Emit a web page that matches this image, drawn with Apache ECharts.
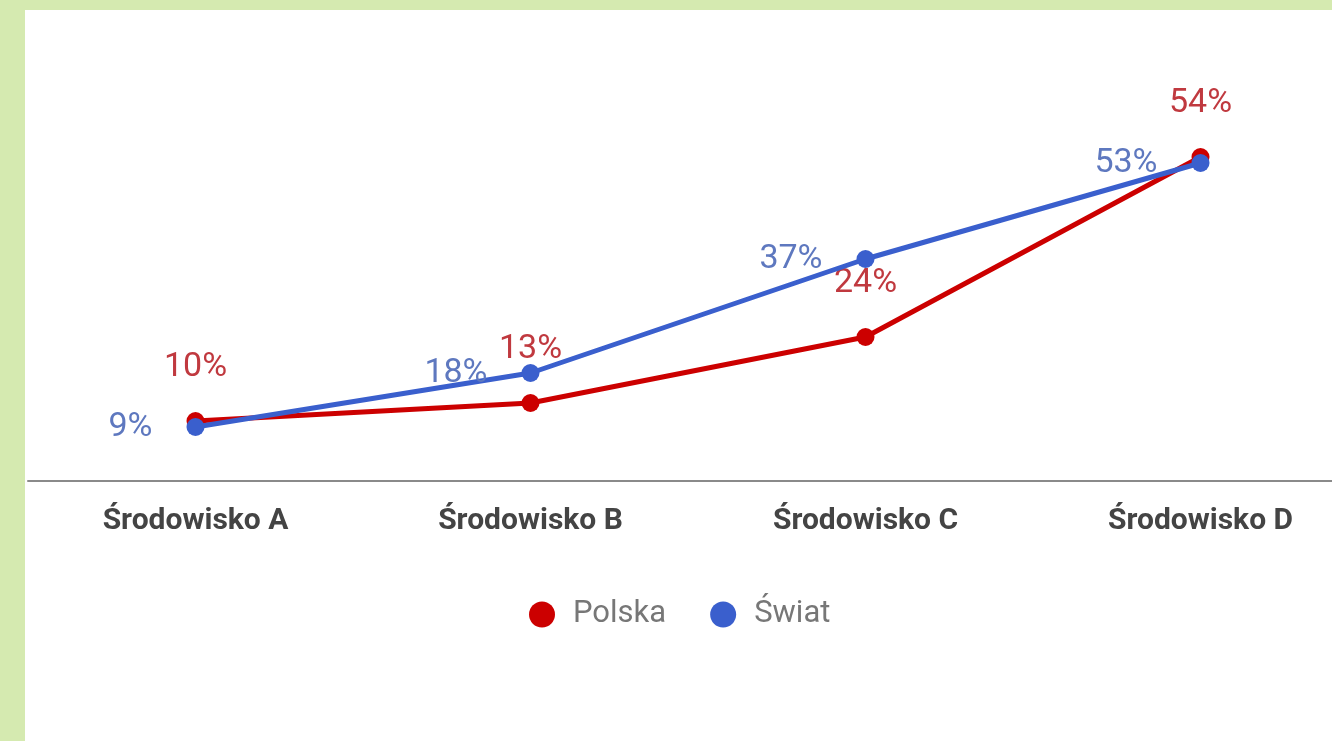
<!DOCTYPE html>
<html>
<head>
<meta charset="utf-8">
<script src="https://cdn.jsdelivr.net/npm/echarts@6/dist/echarts.min.js"></script>
<style>
  html, body { margin: 0; padding: 0; width: 1332px; height: 741px; background: #d5eab0; overflow: hidden; position: relative; }
  #chart { position: absolute; left: 25px; top: 10px; width: 1360px; height: 731px; background: #ffffff; }
</style>
</head>
<body>
<div id="chart"></div>
<script>
const categories = ['Środowisko A', 'Środowisko B', 'Środowisko C', 'Środowisko D'];
const polska = [10, 13, 24, 54];
const swiat = [9, 18, 37, 53];
const seriesNames = ['Polska', 'Świat'];

const chart = echarts.init(document.getElementById('chart'));
chart.setOption({
  animation: false,
  textStyle: { fontFamily: 'Roboto' },
  grid: { left: 3, top: 51, width: 1340, height: 420 },
  legend: {
    data: seriesNames,
    left: 499,
    top: 584,
    icon: 'circle',
    itemWidth: 26,
    itemHeight: 26,
    itemGap: 44,
    textStyle: { fontSize: 31, color: '#777777', fontFamily: 'Roboto', padding: [0, 0, 0, 13] }
  },
  xAxis: {
    type: 'category',
    data: categories,
    boundaryGap: true,
    axisLine: { lineStyle: { color: '#8a8a8a', width: 2 } },
    axisTick: { show: false },
    axisLabel: { fontSize: 30, fontWeight: 'bold', color: '#444444', margin: 25, fontFamily: 'Roboto' }
  },
  yAxis: {
    type: 'value',
    min: 0,
    max: 70,
    show: false,
    splitLine: { show: false }
  },
  series: [
    {
      name: seriesNames[0],
      type: 'line',
      data: polska,
      color: '#cc0000',
      symbol: 'circle',
      symbolSize: 18,
      lineStyle: { width: 5, color: '#cc0000' },
      itemStyle: { color: '#cc0000' },
      label: {
        show: true,
        position: 'top',
        distance: 28,
        formatter: '{c}%',
        fontSize: 34,
        color: '#c0393f',
        fontFamily: 'Roboto'
      },
      z: 2
    },
    {
      name: seriesNames[1],
      type: 'line',
      data: swiat,
      color: '#3a5fcd',
      symbol: 'circle',
      symbolSize: 18,
      lineStyle: { width: 5, color: '#3a5fcd' },
      itemStyle: { color: '#3a5fcd' },
      label: {
        show: true,
        position: 'left',
        distance: 34,
        formatter: '{c}%',
        fontSize: 34,
        color: '#5e78bf',
        fontFamily: 'Roboto'
      },
      z: 3
    }
  ]
});
</script>
</body>
</html>
